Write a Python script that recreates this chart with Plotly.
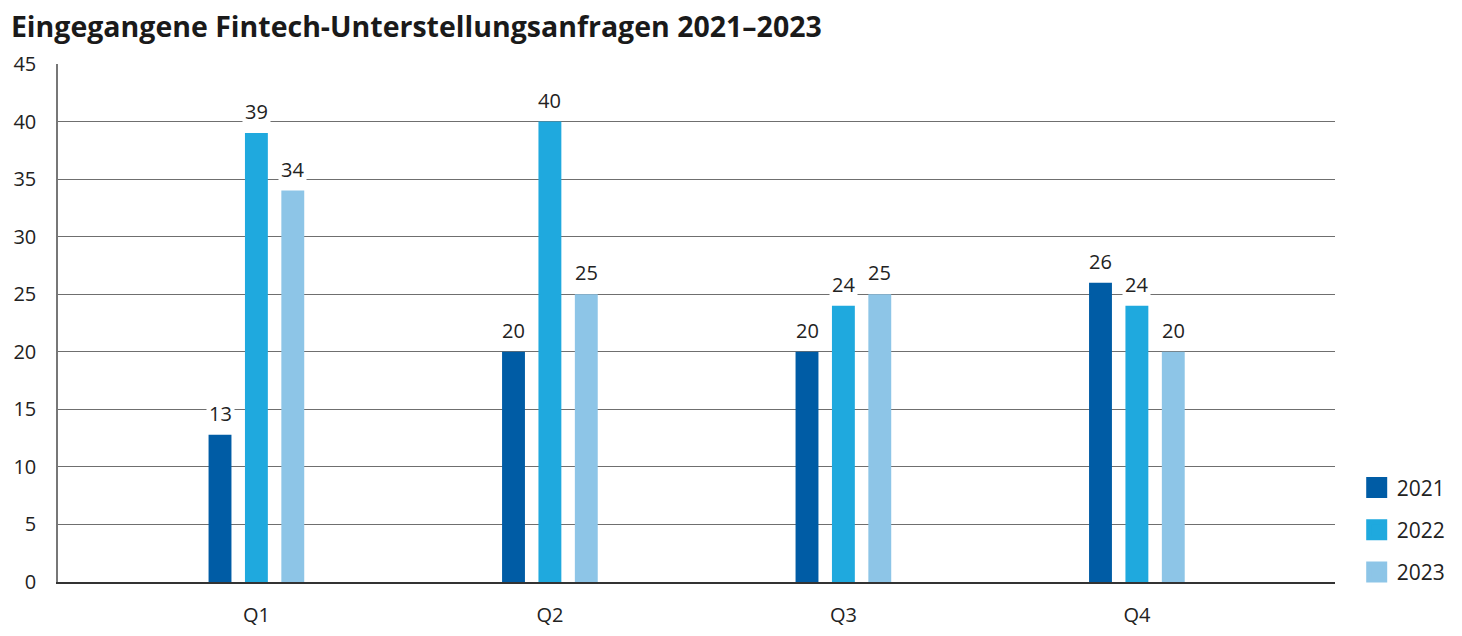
import plotly.graph_objects as go

quarters = ["Q1", "Q2", "Q3", "Q4"]
years = ["2021", "2022", "2023"]
v2021 = [12.8, 20, 20, 26]
v2022 = [39, 40, 24, 24]
v2023 = [34, 25, 25, 20]
colors = ["#005CA5", "#1FA9DE", "#8DC5E7"]
y_ticks = [0, 5, 10, 15, 20, 25, 30, 35, 40, 45]

series = [v2021, v2022, v2023]
offset = 0.124
fig = go.Figure()
for k, (name, vals, c) in enumerate(zip(years, series, colors)):
    xs = [i + (k - 1) * offset for i in range(len(quarters))]
    fig.add_trace(go.Bar(x=xs, y=vals, name=name, showlegend=False,
                         marker=dict(color=c, line=dict(width=0)), width=0.078))
    for x, v in zip(xs, vals):
        fig.add_annotation(x=x, y=v, text=f"{round(v)}", showarrow=False, yanchor="bottom",
                           yshift=5, bgcolor="white", borderpad=2,
                           font=dict(family="Open Sans", size=20, color="#222"))

# legend entries (square swatches)
for name, c in zip(years, colors):
    fig.add_trace(go.Scatter(x=[None], y=[None], mode="markers", name=name, legendgroup=name,
                             marker=dict(symbol="square", size=16, color=c,
                                         line=dict(color=c, width=5))))

fig.update_layout(
    width=1454, height=628,
    margin=dict(l=50, r=127, t=56, b=54, autoexpand=False),
    plot_bgcolor="white", paper_bgcolor="white",
    barmode="overlay",
    title=dict(text="<b>Eingegangene Fintech-Unterstellungsanfragen 2021–2023</b>",
               x=0.002, xanchor="left", y=0.986, yanchor="top", pad=dict(t=0, l=0),
               font=dict(family="Open Sans", size=28.5, color="#1a1a1a")),
    font=dict(family="Open Sans", size=20, color="#222"),
    legend=dict(x=1.017, xanchor="left", y=-0.02, yanchor="bottom",
                font=dict(size=21), tracegroupgap=12, itemwidth=30,
                traceorder="grouped", bgcolor="rgba(0,0,0,0)"),
    showlegend=True,
)
fig.update_xaxes(range=[-0.676, 3.675], tickvals=list(range(len(quarters))), ticktext=quarters,
                 showgrid=False, zeroline=False, showline=True, linecolor="#333", linewidth=2,
                 ticks="", ticklen=0, tickfont=dict(size=20), ticklabelstandoff=14,
                 automargin=False)
fig.update_yaxes(range=[0, 45], tickvals=y_ticks, showgrid=True, gridcolor="#6f6f6f", gridwidth=1,
                 zeroline=False, showline=True, linecolor="#777", linewidth=1.5,
                 ticks="", tickfont=dict(size=20), ticklabelstandoff=16, automargin=False)

fig.write_html("out.html")
